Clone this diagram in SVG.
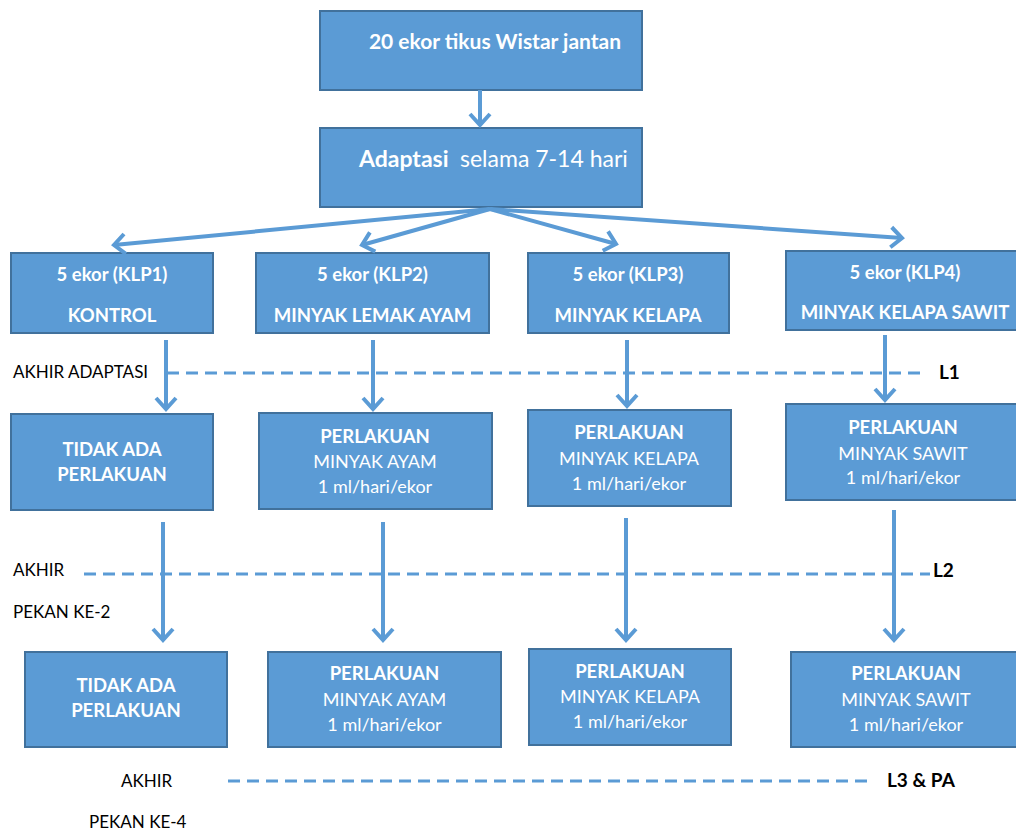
<svg xmlns="http://www.w3.org/2000/svg" width="1016" height="834" viewBox="0 0 1016 834">
<defs>
<marker id="chev" markerUnits="userSpaceOnUse" markerWidth="30" markerHeight="30" viewBox="-15 -15 30 30" refX="0" refY="0" orient="auto">
<path d="M-11,-10 L0,0 L-11,10" fill="none" stroke="#5B9BD5" stroke-width="4"/>
</marker>
</defs>
<style>
.box{fill:#5B9BD5;stroke:#41719C;stroke-width:2}
.bt{font-family:Lato,"Liberation Sans",sans-serif;font-size:18.5px;fill:#fff;text-anchor:middle;font-weight:bold}
.nt{font-family:Lato,"Liberation Sans",sans-serif;font-size:18px;fill:#fff;text-anchor:middle}
.big{font-family:Lato,"Liberation Sans",sans-serif;fill:#fff}
.lbl{font-family:Lato,"Liberation Sans",sans-serif;font-size:17px;fill:#000}
.lb{font-family:Lato,"Liberation Sans",sans-serif;font-size:19px;fill:#000;font-weight:bold}
.arr{stroke:#5B9BD5;stroke-width:4;fill:none;marker-end:url(#chev)}
.dash{stroke:#5B9BD5;stroke-width:3;stroke-dasharray:12 7;fill:none}
</style>
<rect width="1016" height="834" fill="#fff"/>

<g id="n-start">
<rect class="box" x="320" y="11" width="322" height="79"/>
<text class="big" x="495" y="49" style="font-size:21px;font-weight:bold;text-anchor:middle">20 ekor tikus Wistar jantan</text>
</g>
<g id="n-adapt">
<rect class="box" x="320" y="128" width="322" height="79"/>
<text class="big" x="359" y="167" style="font-size:23px;font-weight:bold">Adaptasi</text>
<text class="big" x="460" y="167" style="font-size:23px">selama 7-14 hari</text>
</g>

<g id="n-klp1">
<rect class="box" x="11" y="253" width="202" height="80"/>
<text class="bt" x="112" y="281">5 ekor (KLP1)</text>
<text class="bt" x="112" y="322">KONTROL</text>
</g>
<g id="n-klp2">
<rect class="box" x="256" y="253" width="233" height="80"/>
<text class="bt" x="372.5" y="281">5 ekor (KLP2)</text>
<text class="bt" x="372.5" y="322">MINYAK LEMAK AYAM</text>
</g>
<g id="n-klp3">
<rect class="box" x="528" y="253" width="201" height="80"/>
<text class="bt" x="628" y="281">5 ekor (KLP3)</text>
<text class="bt" x="628" y="322">MINYAK KELAPA</text>
</g>
<g id="n-klp4">
<rect class="box" x="786" y="251" width="238" height="79"/>
<text class="bt" x="905" y="279">5 ekor (KLP4)</text>
<text class="bt" x="905" y="319">MINYAK KELAPA SAWIT</text>
</g>

<g id="n-p1a">
<rect class="box" x="11" y="414" width="202" height="96"/>
<text class="bt" x="112" y="456">TIDAK ADA</text>
<text class="bt" x="112" y="481">PERLAKUAN</text>
</g>
<g id="n-p2a">
<rect class="box" x="259" y="413" width="233" height="96"/>
<text class="bt" x="375" y="443">PERLAKUAN</text>
<text class="nt" x="375" y="468">MINYAK AYAM</text>
<text class="nt" x="375" y="493">1 ml/hari/ekor</text>
</g>
<g id="n-p3a">
<rect class="box" x="528" y="410" width="203" height="96"/>
<text class="bt" x="629" y="439">PERLAKUAN</text>
<text class="nt" x="629" y="465">MINYAK KELAPA</text>
<text class="nt" x="629" y="490">1 ml/hari/ekor</text>
</g>
<g id="n-p4a">
<rect class="box" x="786" y="404" width="236" height="96"/>
<text class="bt" x="903" y="434">PERLAKUAN</text>
<text class="nt" x="903" y="460">MINYAK SAWIT</text>
<text class="nt" x="903" y="484">1 ml/hari/ekor</text>
</g>

<g id="n-p1b">
<rect class="box" x="25" y="652" width="202" height="95"/>
<text class="bt" x="126" y="692">TIDAK ADA</text>
<text class="bt" x="126" y="717">PERLAKUAN</text>
</g>
<g id="n-p2b">
<rect class="box" x="268" y="652" width="233" height="95"/>
<text class="bt" x="384.5" y="680">PERLAKUAN</text>
<text class="nt" x="384.5" y="706">MINYAK AYAM</text>
<text class="nt" x="384.5" y="731">1 ml/hari/ekor</text>
</g>
<g id="n-p3b">
<rect class="box" x="529" y="649" width="202" height="96"/>
<text class="bt" x="630" y="678">PERLAKUAN</text>
<text class="nt" x="630" y="703">MINYAK KELAPA</text>
<text class="nt" x="630" y="728">1 ml/hari/ekor</text>
</g>
<g id="n-p4b">
<rect class="box" x="791" y="652" width="230" height="95"/>
<text class="bt" x="906" y="680">PERLAKUAN</text>
<text class="nt" x="906" y="706">MINYAK SAWIT</text>
<text class="nt" x="906" y="731">1 ml/hari/ekor</text>
</g>

<g id="labels">
<text class="lbl" x="13" y="378">AKHIR ADAPTASI</text>
<text class="lb" x="939" y="379">L1</text>
<text class="lbl" x="13" y="576">AKHIR</text>
<text class="lbl" x="13" y="618">PEKAN KE-2</text>
<text class="lb" x="933" y="577">L2</text>
<text class="lbl" x="121" y="787">AKHIR</text>
<text class="lbl" x="89" y="828">PEKAN KE-4</text>
<text class="lb" x="887" y="787">L3 &amp; PA</text>
</g>

<g id="connectors">
<line class="arr" x1="480" y1="90" x2="480" y2="125"/>
<line class="arr" x1="490" y1="209" x2="114" y2="245"/>
<line class="arr" x1="490" y1="209" x2="362" y2="245"/>
<line class="arr" x1="490" y1="209" x2="616" y2="244"/>
<line class="arr" x1="490" y1="209" x2="902" y2="238"/>

<line class="arr" x1="166" y1="340" x2="166" y2="409"/>
<line class="arr" x1="373" y1="340" x2="373" y2="409"/>
<line class="arr" x1="627" y1="340" x2="627" y2="406"/>
<line class="arr" x1="885" y1="335" x2="885" y2="400"/>

<line class="arr" x1="163" y1="522" x2="163" y2="640"/>
<line class="arr" x1="383" y1="522" x2="383" y2="640"/>
<line class="arr" x1="626" y1="518" x2="626" y2="640"/>
<line class="arr" x1="894" y1="510" x2="894" y2="640"/>

<line class="dash" x1="167" y1="373" x2="922" y2="373"/>
<line class="dash" x1="84" y1="574" x2="930" y2="574"/>
<line class="dash" x1="228" y1="781" x2="872" y2="781"/>
</g>
</svg>
